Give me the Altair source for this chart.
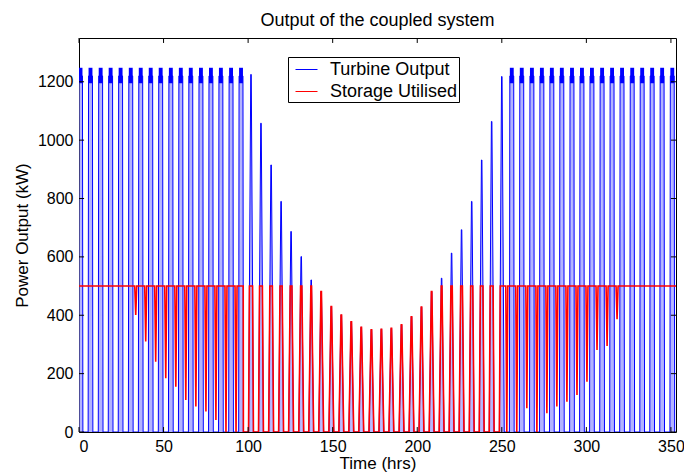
import altair as alt
import pandas as pd

FONT = "Liberation Sans"

# Centre time (hrs) of each generating half-cycle of the tide
pulse_time = [0.9, 6.8, 12.8, 18.7, 24.6, 30.6, 36.5, 42.4, 48.3, 54.3,
              60.2, 66.1, 72.1, 78.0, 83.9, 89.9, 95.8, 101.7, 107.6, 113.6,
              119.5, 125.4, 131.4, 137.3, 143.2, 149.2, 155.1, 161.0, 166.9, 172.9,
              178.8, 184.7, 190.7, 196.6, 202.5, 208.5, 214.4, 220.3, 226.2, 232.2,
              238.1, 244.0, 250.0, 255.9, 261.8, 267.8, 273.7, 279.6, 285.5, 291.5,
              297.4, 303.3, 309.3, 315.2, 321.1, 327.1, 333.0, 338.9, 344.8, 350.8]

# Peak turbine output of each half-cycle (kW); RATED = held at rated power
RATED = 1250
turbine_peak = ([RATED] * 17 +
                [1225, 1058, 915, 790, 687, 601, 521, 481, 430, 401, 378, 359, 350,
                 352, 355, 367, 395, 428, 481, 527, 613, 693, 790, 932, 1064, 1218] +
                [RATED] * 17)

# Spread of output while held at rated power (kW)
rated_band = [1195, 1248]

# Level delivered with storage support (kW)
STORAGE_LEVEL = 500

# Lowest storage-backed output at each slack water between two half-cycles (kW);
# None where the store is exhausted and output simply follows the turbine
slack_dip = ([500, 500, 500, 500, 500, 401, 310, 241, 184, 155, 110, 87, 70, 41, 0, 0] +
             [None] * 26 +
             [0, 0, 81, 0, 64, 87, 104, 127, 172, 281, 295, 386, 500, 500, 500, 500, 500])

x_ticks = [0, 50, 100, 150, 200, 250, 300, 350]
y_ticks = [0, 200, 400, 600, 800, 1000, 1200]
X_MAX, Y_MAX = 353, 1350

# pulse outline: half-width at the base and at the top (hrs)
A_RATED, B_RATED, TOP_RATED = 1.4, 1.15, 1220
A_PEAK, B_PEAK = 1.45, 0.15
DIP_HALF = 0.6


def pulse_shape(p):
    if p >= RATED:
        return A_RATED, B_RATED, TOP_RATED
    return A_PEAK, B_PEAK, p


# turbine output trace
turb = []
for t, p in zip(pulse_time, turbine_peak):
    a, b, top = pulse_shape(p)
    turb += [(t - a, 0), (t - b, top), (t + b, top), (t + a, 0)]
turb_df = pd.DataFrame(turb, columns=["t", "kw"])
turb_df["i"] = range(len(turb_df))
turb_df["series"] = "Turbine Output"

# storage-supported output trace
stor = [(0, STORAGE_LEVEL)]
n = len(pulse_time)
for k, (t, p) in enumerate(zip(pulse_time, turbine_peak)):
    a, b, top = pulse_shape(p)
    m = min(top, STORAGE_LEVEL)
    step = (a - b) * m / top
    before = slack_dip[k - 1] if k > 0 else STORAGE_LEVEL
    after = slack_dip[k] if k < n - 1 else STORAGE_LEVEL
    if before is None:
        stor += [(t - a, 0), (t - a + step, m)]
    if after is None:
        stor += [(t + a - step, m), (t + a, 0)]
    elif after < STORAGE_LEVEL:
        s = (t + pulse_time[k + 1]) / 2
        stor += [(s - DIP_HALF, STORAGE_LEVEL), (s, after), (s + DIP_HALF, STORAGE_LEVEL)]
stor.append((X_MAX, STORAGE_LEVEL))
stor_df = pd.DataFrame(stor, columns=["t", "kw"])
stor_df["i"] = range(len(stor_df))
stor_df["series"] = "Storage Utilised"

# rated-power plateaus
band_df = pd.DataFrame(
    [(t - B_RATED, t + B_RATED, rated_band[0], rated_band[1])
     for t, p in zip(pulse_time, turbine_peak) if p >= RATED],
    columns=["t", "t2", "kw", "kw2"])

xs = alt.Scale(domain=[0, X_MAX], nice=False, zero=False)
ys = alt.Scale(domain=[0, Y_MAX], nice=False)

x_axis = alt.Axis(values=x_ticks, ticks=False, domain=False, grid=False,
                  labelFontSize=16, labelFont=FONT, labelColor="black", labelPadding=6,
                  title="Time (hrs)", titleFontSize=17, titleFont=FONT,
                  titleFontWeight="normal", titleColor="black",
                  titleX=298.5, titleY=31, titleBaseline="middle", titleAlign="center")
y_axis = alt.Axis(values=y_ticks, format="d", ticks=False, domain=False, grid=False,
                  labelFontSize=16, labelFont=FONT, labelColor="black", labelPadding=6,
                  title="Power Output (kW)", titleFontSize=17, titleFont=FONT,
                  titleFontWeight="normal", titleColor="black",
                  titleX=-57, titleY=197, titleBaseline="middle", titleAlign="center",
                  titleAngle=270)

X = alt.X("t:Q", scale=xs, axis=x_axis)
Y = alt.Y("kw:Q", scale=ys, axis=y_axis)

legend = alt.Legend(title=None, orient="none", legendX=209, legendY=19,
                    direction="vertical", fillColor="white", strokeColor="black",
                    padding=1, symbolType="stroke", symbolSize=484, symbolOffset=6,
                    symbolStrokeWidth=1, labelFontSize=18, labelFont=FONT,
                    labelColor="black", labelOffset=12, rowPadding=1, labelLimit=400)
color = alt.Color("series:N",
                  scale=alt.Scale(domain=["Turbine Output", "Storage Utilised"],
                                  range=["#0000ff", "#ff0000"]),
                  legend=legend)

turb_fill = alt.Chart(turb_df).mark_area(color="#8080ff", opacity=0.6, clip=True).encode(
    x=X, y=Y, order="i:Q")
turb_line = alt.Chart(turb_df).mark_line(strokeWidth=1, clip=True).encode(
    x=X, y=Y, order="i:Q", color=color)
plateau = alt.Chart(band_df).mark_rect(color="#0000ff", clip=True).encode(
    x=X, x2="t2:Q", y=Y, y2="kw2:Q")
stor_line = alt.Chart(stor_df).mark_line(strokeWidth=1.6, clip=True).encode(
    x=X, y=Y, order="i:Q", color=color)

# inward tick marks on all four sides of the box
TX, TY = 3, 17
xt_df = pd.DataFrame(
    [(v, 0, TY) for v in x_ticks] + [(v, Y_MAX - TY, Y_MAX) for v in x_ticks],
    columns=["t", "kw", "kw2"])
yt_df = pd.DataFrame(
    [(0, TX, v) for v in y_ticks] + [(X_MAX - TX, X_MAX, v) for v in y_ticks],
    columns=["t", "t2", "kw"])
xt = alt.Chart(xt_df).mark_rule(color="black", strokeWidth=1).encode(
    x=X, y=Y, y2="kw2:Q")
yt = alt.Chart(yt_df).mark_rule(color="black", strokeWidth=1).encode(
    x=X, x2="t2:Q", y=Y)

chart = alt.layer(turb_fill, turb_line, plateau, stor_line, xt, yt).properties(
    width=597, height=394,
    padding={"left": 79, "top": 38, "right": 8, "bottom": 43},
    autosize=alt.AutoSizeParams(type="none"),
    title=alt.Title("Output of the coupled system", fontSize=18, font=FONT,
                    fontWeight="normal", color="black", anchor="middle",
                    frame="group", baseline="alphabetic", offset=0, dy=6),
    background="white",
).configure_view(stroke="black", strokeWidth=1)

chart.save("out.html", embed_options={"renderer": "svg", "actions": False})
